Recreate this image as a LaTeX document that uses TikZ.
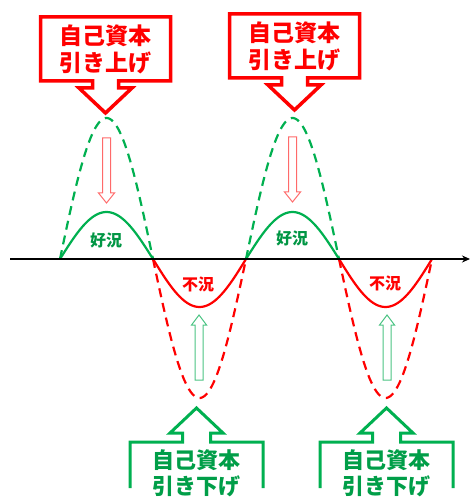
\documentclass[tikz,border=0pt]{standalone}
\usepackage{fontspec}
\newfontfamily\cjk{Noto Sans CJK JP}
\usetikzlibrary{arrows.meta}
\definecolor{myred}{HTML}{FF0000}
\definecolor{mygreen}{HTML}{00B050}
\definecolor{lred}{HTML}{FF6A6A}
\definecolor{lgreen}{HTML}{4CC484}
\tikzset{
  solidcurve/.style={line width=2.2pt},
  dashcurve/.style={line width=2.2pt, dash pattern=on 9pt off 6pt},
  hollow/.style={line width=1pt, fill=white},
  callouttext/.style={align=center, font=\cjk\bfseries\fontsize{23}{27}\selectfont, inner sep=0pt},
  labeltext/.style={font=\cjk\bfseries\fontsize{16}{18}\selectfont, inner sep=0pt},
  downcallout/.pic={
    \draw[myred, line width=3.5pt, line join=miter, fill=white]
      (-65,0) -- (65,0) -- (65,64) -- (13,64) -- (13,71) -- (26.5,71) -- (0,96)
      -- (-26.5,71) -- (-13,71) -- (-13,64) -- (-65,64) -- cycle;
  },
  upcallout/.pic={
    \draw[mygreen, line width=3pt, line join=miter, fill=white]
      (-66.5,80) -- (-66.5,34) -- (-14,34) -- (-14,25) -- (-26.5,25) -- (0,0)
      -- (26.5,25) -- (14,25) -- (14,34) -- (66.5,34) -- (66.5,80);
  },
  hollowdown/.pic={
    \draw[lred, hollow] (-4,0) -- (4,0) -- (4,55) -- (8,55) -- (0,65)
      -- (-8,55) -- (-4,55) -- cycle;
  },
  hollowup/.pic={
    \draw[lgreen, hollow] (-4,65) -- (4,65) -- (4,10) -- (7.5,10) -- (0,0)
      -- (-7.5,10) -- (-4,10) -- cycle;
  }
}
\begin{document}
\begin{tikzpicture}[x=1pt,y=-1pt]
\useasboundingbox (0,0) rectangle (470,502);
\clip (0,0) rectangle (470,502);
\fill[white] (0,0) rectangle (470,502);

% curves
\foreach \s in {60,246} {
  \draw[mygreen, dashcurve] plot[domain=0:180, samples=50] ({\s+\x*0.516667},{259-141*sin(\x)});
  \draw[mygreen, solidcurve] plot[domain=0:180, samples=50] ({\s+\x*0.516667},{259-47*sin(\x)});
}
\foreach \s in {153,339} {
  \draw[myred, dashcurve] plot[domain=0:180, samples=50] ({\s+\x*0.516667},{259+139*sin(\x)});
  \draw[myred, solidcurve] plot[domain=0:180, samples=50] ({\s+\x*0.516667},{259+48*sin(\x)});
}

% axis
\coordinate (axL) at (10,259);
\coordinate (axR) at (470,259);
\draw[line width=2pt, -{Stealth[length=8pt,width=7pt]}] (axL) -- (axR);

% hollow arrows
\pic at (106.5,138) {hollowdown};
\pic at (292.5,137) {hollowdown};
\pic at (199,315) {hollowup};
\pic at (387,315) {hollowup};

% callouts
\pic at (105.5,17) {downcallout};
\pic at (294.5,14) {downcallout};
\pic at (196.5,408) {upcallout};
\pic at (386.5,408) {upcallout};

\node[callouttext, text=myred] (up1) at (105.5,49.5) {自己資本\\引き上げ};
\node[callouttext, text=myred] (up2) at (294.5,46.5) {自己資本\\引き上げ};
\node[callouttext, text=mygreen!90!black, font=\cjk\bfseries\fontsize{22}{26}\selectfont] (dn1) at (196.5,473) {自己資本\\引き下げ};
\node[callouttext, text=mygreen!90!black, font=\cjk\bfseries\fontsize{22}{26}\selectfont] (dn2) at (386.5,473) {自己資本\\引き下げ};

% labels
\node[labeltext, text=mygreen!85!black] (k1) at (106,240) {好況};
\node[labeltext, text=mygreen!85!black] (k2) at (292,238) {好況};
\node[labeltext, text=myred] (f1) at (198,284) {不況};
\node[labeltext, text=myred] (f2) at (385,283) {不況};
\end{tikzpicture}
\end{document}
